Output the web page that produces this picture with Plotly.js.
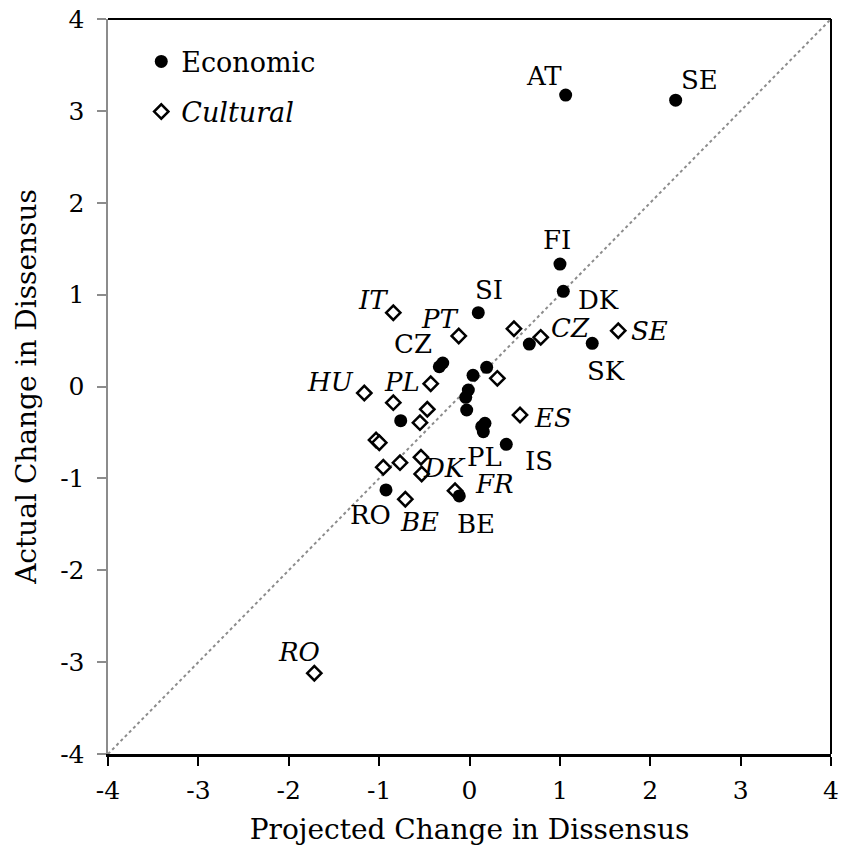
<!DOCTYPE html>
<html>
<head>
<meta charset="utf-8">
<script src="https://cdn.plot.ly/plotly-3.0.1.min.js"></script>
<style>
  html, body { margin: 0; padding: 0; background: #fff; }
  #chart { width: 843px; height: 851px; }
</style>
</head>
<body>
<div id="chart"></div>
<script>
// Economic issues: projected vs. actual change in dissensus
const econProjected = [1.064, 2.281, 1.001, 1.038, 0.097, 0.662, 1.358, -0.334, -0.296, 0.190,
                       0.039, -0.013, -0.042, -0.031, 0.171, 0.135, 0.153, -0.761, 0.407, -0.924, -0.113];
const econActual    = [3.172, 3.117, 1.333, 1.036, 0.803, 0.462, 0.470, 0.215, 0.256, 0.209,
                       0.122, -0.038, -0.118, -0.256, -0.400, -0.437, -0.492, -0.372, -0.629, -1.126, -1.191];
const econLabels    = ['AT', 'SE', 'FI', 'DK', 'SI', '', 'SK', '', 'CZ', '',
                       '', '', '', '', '', '', 'PL', '', 'IS', 'RO', 'BE'];

// Cultural issues: projected vs. actual change in dissensus
const cultProjected = [-0.843, -0.119, 0.492, 0.788, 1.646, -1.164, -0.429, 0.308, -0.843, -0.467,
                       -0.548, 0.559, -1.034, -0.998, -0.954, -0.769, -0.537, -0.529, -0.160, -0.710, -1.717];
const cultActual    = [0.803, 0.550, 0.629, 0.535, 0.607, -0.071, 0.030, 0.089, -0.176, -0.248,
                       -0.394, -0.310, -0.582, -0.612, -0.879, -0.829, -0.770, -0.952, -1.134, -1.227, -3.121];
const cultLabels    = ['IT', 'PT', '', 'CZ', 'SE', 'HU', 'PL', '', '', '',
                       '', 'ES', '', '', '', '', '', 'DK', 'FR', 'BE', 'RO'];

// Axis ticks and the 45-degree reference line
const tickValues = [-4, -3, -2, -1, 0, 1, 2, 3, 4];
const tickLabels = ['-4', '-3', '-2', '-1', '0', '1', '2', '3', '4'];
const axisRange  = [-4, 4];

// Label placement relative to each marker, in pixels [right, down]
const econOffsets = {
  AT: [-22, -19], SE: [24, -20], FI: [-3, -24], DK: [35, 9], SI: [11, -23],
  CZ: [-30, -19], SK: [14, 28], PL: [1, 25], IS: [33, 17], RO: [-15, 25], BE: [17, 28]
};
const cultOffsets = {
  IT: [-20, -13], PT: [-19, -17], HU: [-34, -11], PL: [-29, -2], CZ: [30, -9],
  SE: [31, 0], ES: [33, 3], DK: [23, -6], FR: [39, -7], BE: [14, 23], RO: [-15, -21]
};

const FONT = 'DejaVu Serif, serif';

const cultural = {
  type: 'scatter', mode: 'markers', name: '<i>Cultural</i>',
  x: cultProjected, y: cultActual,
  legendgroup: 'b', legendrank: 2,
  marker: { symbol: 'diamond', size: 11, color: '#ffffff', line: { color: '#000000', width: 2.5 } },
  hoverinfo: 'skip'
};
const economic = {
  type: 'scatter', mode: 'markers', name: 'Economic',
  x: econProjected, y: econActual,
  legendgroup: 'a', legendrank: 1,
  marker: { symbol: 'circle', size: 13, color: '#000000' },
  hoverinfo: 'skip'
};

const annotations = [];
function addLabels(xs, ys, labels, offsets, style) {
  labels.forEach((lab, i) => {
    if (!lab) return;
    const off = offsets[lab];
    annotations.push({
      x: xs[i], y: ys[i], xref: 'x', yref: 'y', text: lab, showarrow: false,
      xshift: off[0], yshift: -off[1],
      font: { family: FONT, size: 26, color: '#000', style: style }
    });
  });
}
addLabels(econProjected, econActual, econLabels, econOffsets, 'normal');
addLabels(cultProjected, cultActual, cultLabels, cultOffsets, 'italic');

const layout = {
  width: 843, height: 851,
  margin: { l: 108, r: 12, t: 19, b: 97 },
  paper_bgcolor: '#ffffff', plot_bgcolor: '#ffffff',
  font: { family: FONT, color: '#000' },
  showlegend: true,
  legend: {
    x: 0.046, y: 0.975, xanchor: 'left', yanchor: 'top',
    font: { family: FONT, size: 27, color: '#000' },
    tracegroupgap: 12, bgcolor: 'rgba(0,0,0,0)'
  },
  xaxis: {
    range: axisRange, tickvals: tickValues, ticktext: tickLabels,
    ticks: 'outside', ticklen: 9, tickwidth: 2, tickcolor: '#000',
    showline: true, linecolor: '#000', linewidth: 3,
    showgrid: false, zeroline: false, ticklabelstandoff: 3,
    tickfont: { family: FONT, size: 25, color: '#000' },
    title: { text: 'Projected Change in Dissensus', font: { family: FONT, size: 28, color: '#000' }, standoff: 16 }
  },
  yaxis: {
    range: axisRange, tickvals: tickValues, ticktext: tickLabels,
    ticks: 'outside', ticklen: 9, tickwidth: 2, tickcolor: '#8c8c8c',
    showline: true, linecolor: '#8c8c8c', linewidth: 2.5,
    showgrid: false, zeroline: false, ticklabelstandoff: 7,
    tickfont: { family: FONT, size: 25, color: '#000' },
    title: { text: 'Actual Change in Dissensus', font: { family: FONT, size: 28, color: '#000' }, standoff: 16 }
  },
  shapes: [
    { type: 'line', xref: 'x', yref: 'y', x0: axisRange[0], y0: axisRange[0], x1: axisRange[1], y1: axisRange[1],
      line: { color: '#8c8c8c', width: 2, dash: 'dot' }, layer: 'below' },
    { type: 'line', xref: 'paper', yref: 'paper', x0: 0, y0: 1, x1: 1, y1: 1,
      line: { color: '#000', width: 2 } },
    { type: 'line', xref: 'paper', yref: 'paper', x0: 1, y0: 0, x1: 1, y1: 1,
      line: { color: '#000', width: 2 } }
  ],
  annotations: annotations
};

Plotly.newPlot('chart', [cultural, economic], layout, { displayModeBar: false, staticPlot: true });
</script>
</body>
</html>
